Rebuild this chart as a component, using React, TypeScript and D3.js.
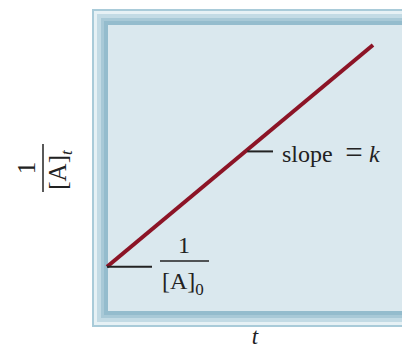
import React from "react";
import * as d3 from "d3";

const tValues = [0, 1];
const invAValues = [0.155, 0.93];
const slopeMarkT = [0.52];
const labels = { slope: "slope", eq: "=", k: "k", x: "t", one: "1", conc: "[A]", sub0: "0", subT: "t" };

const W = 402, H = 350;
const serif = "'Liberation Serif', 'DejaVu Serif', serif";

export default function App() {
  const frame = { x: 92, y: 9, r: 430, b: 327 };
  const inner = { x: 108, y: 25, r: 430, b: 311 };
  const x = d3.scaleLinear().domain([0, 1]).range([107, 373]);
  const y = d3.scaleLinear().domain([0, 1]).range([inner.b, inner.y]);
  const pts = tValues.map((t, i) => [x(t), y(invAValues[i])] as [number, number]);
  const line = d3.line()(pts) || "";
  const slope = (invAValues[1] - invAValues[0]) / (tValues[1] - tValues[0]);
  const mx = x(slopeMarkT[0]);
  const my = y(invAValues[0] + slope * (slopeMarkT[0] - tValues[0]));
  const y0 = y(invAValues[0]);
  const bands = [
    { inset: 0, fill: "#a9cbd9" },
    { inset: 2, fill: "#e6f1f5" },
    { inset: 5, fill: "#c3dbe5" },
    { inset: 9, fill: "#a8c9d7" },
    { inset: 12, fill: "#94bccd" },
  ];
  return (
    <div style={{ position: "absolute", left: 0, top: 0 }}>
      <svg width={W} height={H} style={{ display: "block", background: "#fff" }}>
        {bands.map((b, i) => (
          <rect key={i} x={frame.x + b.inset} y={frame.y + b.inset}
            width={frame.r - frame.x - 2 * b.inset} height={frame.b - frame.y - 2 * b.inset} fill={b.fill} />
        ))}
        <rect x={inner.x} y={inner.y} width={inner.r - inner.x} height={inner.b - inner.y} fill="#dae8ee" />
        <path d={line} stroke="#8c1426" strokeWidth={4} fill="none" strokeLinecap="butt" />
        <line x1={x(0)} x2={152} y1={y0} y2={y0} stroke="#222" strokeWidth={2} />
        <line x1={mx + 2} x2={273} y1={my} y2={my} stroke="#222" strokeWidth={2} />
        <g fontFamily={serif} fill="#222">
          <text x={282} y={162} fontSize={24}>{labels.slope}</text>
          <text x={354} y={163} fontSize={31} textAnchor="middle">{labels.eq}</text>
          <text x={369} y={162} fontSize={24} fontStyle="italic">{labels.k}</text>
        </g>
        <g fontFamily={serif} fill="#222">
          <text x={184} y={253} fontSize={24} textAnchor="middle">{labels.one}</text>
          <line x1={160} x2={209} y1={261} y2={261} stroke="#222" strokeWidth={1.5} />
          <text x={162} y={289} fontSize={24}>{labels.conc}<tspan fontSize={17} dy={6}>{labels.sub0}</tspan></text>
        </g>
        <text x={255} y={344} fontFamily={serif} fontSize={23} fontStyle="italic" textAnchor="middle" fill="#222">{labels.x}</text>
        <g transform="translate(0,168) rotate(-90)" fontFamily={serif} fill="#222">
          <text x={0} y={35} fontSize={25} textAnchor="middle">{labels.one}</text>
          <line x1={-24} x2={24} y1={43} y2={43} stroke="#222" strokeWidth={1.5} />
          <text x={-2} y={66} fontSize={25} textAnchor="middle">{labels.conc}<tspan fontSize={17} fontStyle="italic" dy={6}>{labels.subT}</tspan></text>
        </g>
      </svg>
    </div>
  );
}
